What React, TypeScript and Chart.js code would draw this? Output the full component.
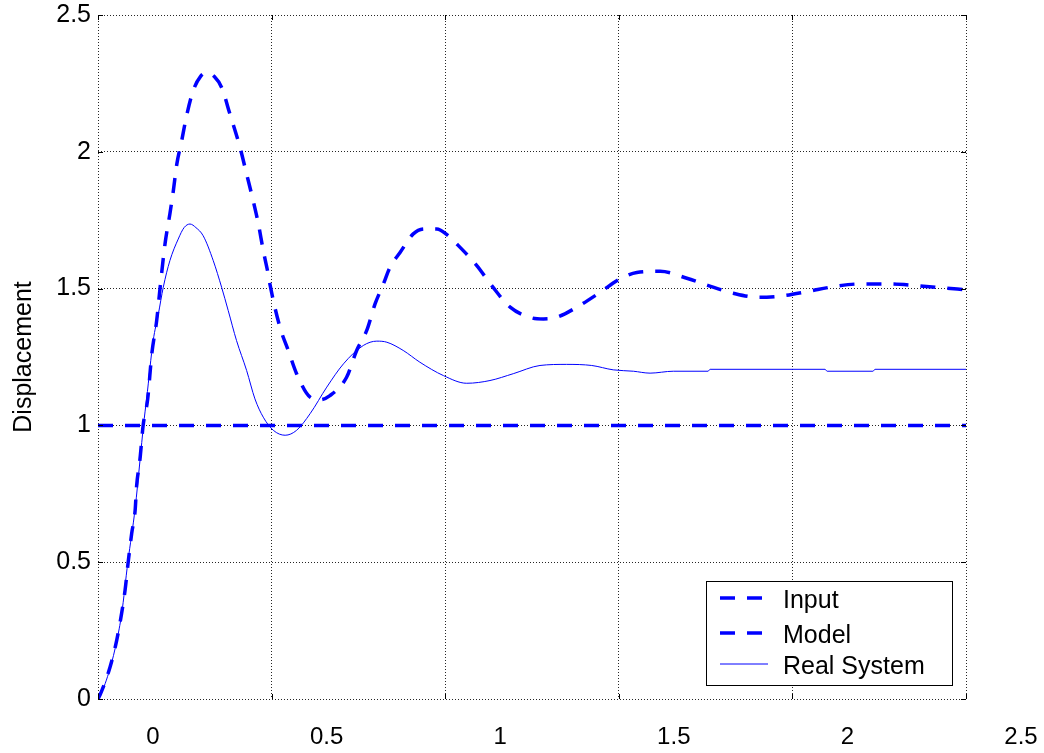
import React, { useEffect, useRef } from "react";
import { Chart, registerables } from "chart.js";

Chart.register(...registerables);

const xTicks = [0, 0.5, 1, 1.5, 2, 2.5];
const yTicks = [0, 0.5, 1, 1.5, 2, 2.5];

const seriesNames = ["Input", "Model", "Real System"];
const yAxisTitle = "Displacement";

const inputX = [0, 2.5];
const inputY = [1, 1];

const modelX = [
  0, 0.006, 0.035, 0.054, 0.068, 0.078, 0.087, 0.097, 0.107, 0.111, 0.121, 0.13,
  0.143, 0.155, 0.169, 0.179, 0.193, 0.207, 0.217, 0.227, 0.241, 0.255, 0.274,
  0.295, 0.313, 0.335, 0.356, 0.38, 0.409, 0.428, 0.447, 0.462, 0.476, 0.49,
  0.495, 0.524, 0.548, 0.572, 0.611, 0.639, 0.668, 0.716, 0.745, 0.774, 0.798,
  0.822, 0.841, 0.87, 0.908, 0.94, 0.976, 1.005, 1.038, 1.091, 1.134, 1.187,
  1.249, 1.283, 1.321, 1.379, 1.446, 1.503, 1.552, 1.619, 1.696, 1.758, 1.83,
  1.902, 1.974, 2.046, 2.118, 2.195, 2.276, 2.358, 2.425, 2.5,
];
const modelY = [
  0, 0.015, 0.118, 0.215, 0.313, 0.398, 0.501, 0.605, 0.69, 0.775, 0.878, 1.0,
  1.095, 1.262, 1.383, 1.505, 1.663, 1.773, 1.858, 1.955, 2.04, 2.131, 2.223,
  2.275, 2.289, 2.275, 2.235, 2.138, 2.016, 1.919, 1.821, 1.736, 1.639, 1.554,
  1.517, 1.359, 1.274, 1.189, 1.103, 1.094, 1.109, 1.176, 1.274, 1.347, 1.444,
  1.517, 1.578, 1.632, 1.7, 1.718, 1.718, 1.697, 1.657, 1.584, 1.511, 1.432,
  1.393, 1.389, 1.395, 1.432, 1.486, 1.535, 1.559, 1.563, 1.538, 1.511, 1.483,
  1.468, 1.474, 1.49, 1.507, 1.517, 1.517, 1.511, 1.503, 1.496,
];

const realX = [
  0, 0.006, 0.035, 0.054, 0.068, 0.086, 0.107, 0.121, 0.131, 0.14, 0.159, 0.174,
  0.188, 0.207, 0.231, 0.248, 0.265, 0.282, 0.303, 0.332, 0.356, 0.375, 0.399,
  0.428, 0.452, 0.476, 0.505, 0.539, 0.572, 0.611, 0.659, 0.707, 0.764, 0.803,
  0.832, 0.879, 0.927, 0.995, 1.062, 1.129, 1.196, 1.273, 1.35, 1.422, 1.484,
  1.542, 1.59, 1.657, 1.757, 1.763, 2.094, 2.1, 2.232, 2.238, 2.5,
];
const realY = [
  0, 0.011, 0.113, 0.212, 0.31, 0.5, 0.697, 0.872, 1.0, 1.097, 1.31, 1.408,
  1.505, 1.602, 1.681, 1.723, 1.736, 1.723, 1.693, 1.602, 1.505, 1.42, 1.31,
  1.201, 1.097, 1.03, 0.982, 0.964, 0.982, 1.043, 1.14, 1.225, 1.292, 1.308,
  1.304, 1.274, 1.231, 1.182, 1.154, 1.164, 1.189, 1.219, 1.223, 1.219, 1.203,
  1.198, 1.191, 1.198, 1.198, 1.205, 1.205, 1.198, 1.198, 1.205, 1.205,
];

const toPoints = (xs: number[], ys: number[]) => xs.map((x, i) => ({ x, y: ys[i] }));

const BLUE = "#0000ff";
const FONT = "'Liberation Sans', Arial, Helvetica, sans-serif";
const fmt = (v: any) => String(Number(v));

const decorPlugin = {
  id: "matlabDecor",
  afterDatasetsDraw(chart: any) {
    const { ctx, chartArea: a, scales } = chart;
    const xs = scales.x;
    const ys = scales.y;
    ctx.save();
    ctx.strokeStyle = "#000";
    ctx.lineWidth = 1;
    ctx.setLineDash([]);
    xTicks.forEach((v) => {
      const px = Math.round(xs.getPixelForValue(v)) + 0.5;
      ctx.beginPath();
      ctx.moveTo(px, a.bottom);
      ctx.lineTo(px, a.bottom - 5);
      ctx.moveTo(px, a.top);
      ctx.lineTo(px, a.top + 5);
      ctx.stroke();
    });
    yTicks.forEach((v) => {
      const py = Math.round(ys.getPixelForValue(v)) + 0.5;
      ctx.beginPath();
      ctx.moveTo(a.left, py);
      ctx.lineTo(a.left + 5, py);
      ctx.moveTo(a.right, py);
      ctx.lineTo(a.right - 5, py);
      ctx.stroke();
    });

    // legend box
    const lx = 706.5, ly = 581.5, lw = 246, lh = 104;
    ctx.fillStyle = "#fff";
    ctx.fillRect(lx, ly, lw, lh);
    ctx.strokeStyle = "#000";
    ctx.lineWidth = 1;
    ctx.strokeRect(lx, ly, lw, lh);
    const rows = [598, 633, 664];
    const styles = [
      { w: 3.5, dash: [15, 12] },
      { w: 3.5, dash: [15, 12] },
      { w: 1, dash: [] as number[] },
    ];
    ctx.font = `25px ${FONT}`;
    ctx.textBaseline = "middle";
    ctx.textAlign = "left";
    seriesNames.forEach((name, i) => {
      const yy = rows[i];
      ctx.strokeStyle = BLUE;
      ctx.lineWidth = styles[i].w;
      ctx.setLineDash(styles[i].dash);
      ctx.beginPath();
      ctx.moveTo(720, yy);
      ctx.lineTo(768, yy);
      ctx.stroke();
      ctx.setLineDash([]);
      ctx.fillStyle = "#000";
      ctx.fillText(name, 783, yy + 3);
    });
    ctx.restore();
  },
};

export default function App() {
  const ref = useRef<HTMLCanvasElement | null>(null);
  useEffect(() => {
    if (!ref.current) return;
    const gridCommon = {
      color: "rgba(0,0,0,0.85)",
      lineWidth: 1,
      drawTicks: false,
    };
    const chart = new Chart(ref.current, {
      type: "line",
      data: {
        datasets: [
          {
            label: seriesNames[0],
            data: toPoints(inputX, inputY),
            borderColor: BLUE,
            borderWidth: 3.5,
            borderDash: [15, 12],
            pointRadius: 0,
            fill: false,
            order: 2,
          },
          {
            label: seriesNames[1],
            data: toPoints(modelX, modelY),
            borderColor: BLUE,
            borderWidth: 3.5,
            borderDash: [15, 12],
            pointRadius: 0,
            cubicInterpolationMode: "monotone",
            fill: false,
            order: 1,
          },
          {
            label: seriesNames[2],
            data: toPoints(realX, realY),
            borderColor: BLUE,
            borderWidth: 1,
            pointRadius: 0,
            cubicInterpolationMode: "monotone",
            fill: false,
            order: 0,
          },
        ],
      },
      options: {
        responsive: false,
        animation: false,
        events: [],
        layout: { padding: { top: 15, right: 78, left: 0, bottom: 0 } },
        plugins: {
          legend: { display: false },
          tooltip: { enabled: false },
          title: { display: false },
        },
        scales: {
          x: {
            type: "linear",
            min: 0,
            max: 2.5,
            afterFit: (s: any) => {
              s.height = 54;
              s.paddingLeft = 0;
              s.paddingRight = 0;
            },
            afterBuildTicks: (s: any) => {
              s.ticks = xTicks.map((v) => ({ value: v }));
            },
            ticks: {
              color: "#000",
              font: { family: FONT, size: 24 },
              padding: 24,
              labelOffset: 55,
              maxRotation: 0,
              autoSkip: false,
              callback: fmt,
            },
            grid: gridCommon,
            border: { display: false, dash: [1, 2] },
          },
          y: {
            type: "linear",
            min: 0,
            max: 2.5,
            afterFit: (s: any) => {
              s.width = 98;
              s.paddingTop = 0;
              s.paddingBottom = 0;
            },
            afterBuildTicks: (s: any) => {
              s.ticks = yTicks.map((v) => ({ value: v }));
            },
            ticks: {
              color: "#000",
              font: { family: FONT, size: 25 },
              padding: 7,
              autoSkip: false,
              callback: fmt,
            },
            grid: gridCommon,
            border: { display: false, dash: [1, 2] },
            title: {
              display: true,
              text: yAxisTitle,
              color: "#000",
              font: { family: FONT, size: 25 },
              padding: { top: 9, bottom: 0 },
            },
          },
        },
      },
      plugins: [decorPlugin],
    });
    return () => chart.destroy();
  }, []);
  return (
    <canvas
      ref={ref}
      width={1044}
      height={753}
      style={{ position: "absolute", left: 0, top: 0, width: 1044, height: 753 }}
    />
  );
}
